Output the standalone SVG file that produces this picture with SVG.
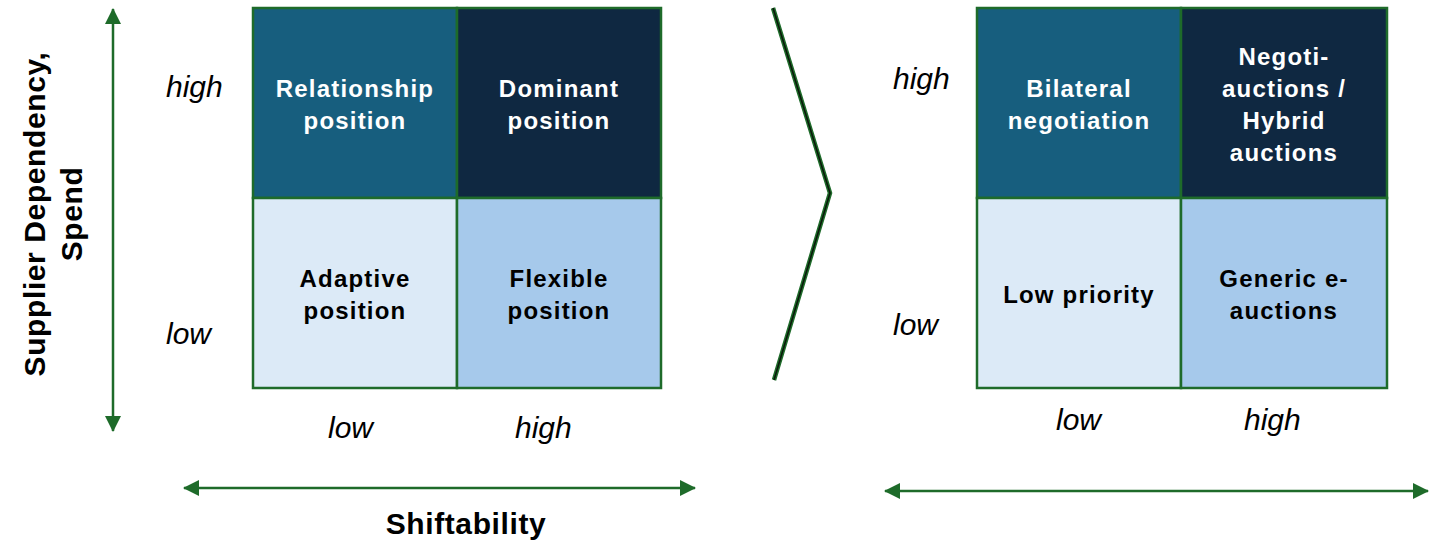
<svg xmlns="http://www.w3.org/2000/svg" width="1438" height="541" viewBox="0 0 1438 541">
<style>
text{font-family:"Liberation Sans",Arial,sans-serif}
.cell{stroke:#1E6B2A;stroke-width:2.5}
.c1{fill:#175E7E}.c2{fill:#0F2841}.c3{fill:#DCEAF7}.c4{fill:#A6C9EB}
.lbl{font-size:24px;font-weight:bold;letter-spacing:1.2px;text-anchor:middle}
.w{fill:#FFFFFF}.b{fill:#000000}
.ax{font-size:30px;font-style:italic;fill:#000}
.title{font-size:30px;font-weight:bold;letter-spacing:0.6px;text-anchor:middle;fill:#000}
.arr{stroke:#1E6B2A;stroke-width:2.5;fill:none}
</style>
<defs>
<marker id="ah" viewBox="0 0 16 16" refX="15" refY="8" markerWidth="16" markerHeight="16" markerUnits="userSpaceOnUse" orient="auto-start-reverse">
<path d="M0,0 L16,8 L0,16 z" fill="#1E6B2A"/>
</marker>
</defs>

<g id="left-matrix">
<g id="relationship"><rect class="cell c1" x="253" y="8" width="204" height="190"/><text class="lbl w" x="355" y="97">Relationship</text><text class="lbl w" x="355" y="129">position</text></g>
<g id="dominant"><rect class="cell c2" x="457" y="8" width="204" height="190"/><text class="lbl w" x="559" y="97">Dominant</text><text class="lbl w" x="559" y="129">position</text></g>
<g id="adaptive"><rect class="cell c3" x="253" y="198" width="204" height="190"/><text class="lbl b" x="355" y="287">Adaptive</text><text class="lbl b" x="355" y="319">position</text></g>
<g id="flexible"><rect class="cell c4" x="457" y="198" width="204" height="190"/><text class="lbl b" x="559" y="287">Flexible</text><text class="lbl b" x="559" y="319">position</text></g>
</g>

<g id="right-matrix">
<g id="bilateral"><rect class="cell c1" x="977" y="8" width="204" height="190"/><text class="lbl w" x="1079" y="97">Bilateral</text><text class="lbl w" x="1079" y="129">negotiation</text></g>
<g id="negotiauctions"><rect class="cell c2" x="1181" y="8" width="206" height="190"/><text class="lbl w" x="1284" y="65">Negoti-</text><text class="lbl w" x="1284" y="97">auctions /</text><text class="lbl w" x="1284" y="129">Hybrid</text><text class="lbl w" x="1284" y="161">auctions</text></g>
<g id="lowpriority"><rect class="cell c3" x="977" y="198" width="204" height="190"/><text class="lbl b" x="1079" y="303">Low priority</text></g>
<g id="generic"><rect class="cell c4" x="1181" y="198" width="206" height="190"/><text class="lbl b" x="1284" y="287">Generic e-</text><text class="lbl b" x="1284" y="319">auctions</text></g>
</g>

<g id="axis-labels">
<text class="ax" x="166" y="97">high</text>
<text class="ax" x="166" y="344">low</text>
<text class="ax" x="328" y="438">low</text>
<text class="ax" x="515" y="438">high</text>
<text class="ax" x="893" y="89">high</text>
<text class="ax" x="893" y="335">low</text>
<text class="ax" x="1056" y="430">low</text>
<text class="ax" x="1244" y="430">high</text>
<text class="title" x="466" y="534">Shiftability</text>
<g transform="translate(45,214) rotate(-90)"><text class="title" x="0" y="0">Supplier Dependency,</text><text class="title" x="0" y="37">Spend</text></g>
</g>

<g id="connectors">
<line class="arr" x1="113" y1="9" x2="113" y2="431" marker-start="url(#ah)" marker-end="url(#ah)"/>
<line class="arr" x1="184" y1="488" x2="695" y2="488" marker-start="url(#ah)" marker-end="url(#ah)"/>
<line class="arr" x1="885" y1="491" x2="1428" y2="491" marker-start="url(#ah)" marker-end="url(#ah)"/>
<polyline points="773,8 830,193 774,380" fill="none" stroke="#1E6B2A" stroke-width="4.5"/>
<polyline points="773,8 830,193 774,380" fill="none" stroke="#0A1A0A" stroke-width="1.6"/>
</g>
</svg>
